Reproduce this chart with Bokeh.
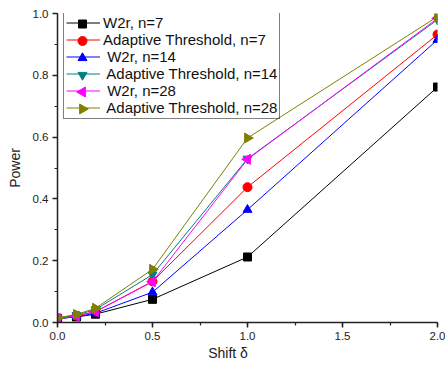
from bokeh.plotting import figure
from bokeh.models import Range1d, Legend, LegendItem, NumeralTickFormatter, SingleIntervalTicker
from bokeh.embed import file_html
from bokeh.resources import INLINE

shift = [0.0, 0.1, 0.2, 0.5, 1.0, 2.0]
w2r_7 = [0.013, 0.018, 0.027, 0.075, 0.212, 0.762]
at_7 = [0.014, 0.022, 0.035, 0.133, 0.438, 0.932]
w2r_14 = [0.012, 0.019, 0.030, 0.098, 0.365, 0.915]
at_14 = [0.015, 0.024, 0.042, 0.155, 0.530, 0.980]
w2r_28 = [0.013, 0.020, 0.035, 0.132, 0.528, 0.984]
at_28 = [0.015, 0.026, 0.046, 0.172, 0.597, 0.990]

labels = ["W2r, n=7", "Adaptive Threshold, n=7", " W2r, n=14",
          " Adaptive Threshold, n=14", " W2r, n=28", " Adaptive Threshold, n=28"]
series = [w2r_7, at_7, w2r_14, at_14, w2r_28, at_28]
colors = ["#000000", "#ff0000", "#0000ff", "#008080", "#ff00ff", "#808000"]
markers = ["square", "circle", "triangle", "inverted_triangle", "triangle", "triangle"]
angles = [0, 0, 0, 0, 90, -90]
sizes = [8, 9, 9, 9, 10, 10]

FONT = "Liberation Sans"

# layout constants (pixels)
W, H = 445, 367
BL, BR, BT, BB = 57, 8, 13, 45
FW, FH = W - BL - BR, H - BT - BB
X0, X1, Y0, Y1 = 0.0, 2.0, 0.0, 1.0
LEG_X = 6
LEG_PAD = 2
ROW_H = 17
GLYPH_W = 34
LEG_H = 2 * LEG_PAD + len(labels) * ROW_H

p = figure(width=W, height=H, output_backend="svg", toolbar_location=None,
           x_range=Range1d(X0, X1), y_range=Range1d(Y0, Y1),
           min_border_left=BL, min_border_right=BR, min_border_top=BT, min_border_bottom=BB)
p.outline_line_color = None
p.xgrid.visible = False
p.ygrid.visible = False

items = []
for i, (ys, lab, c, m, a, s) in enumerate(zip(series, labels, colors, markers, angles, sizes)):
    l = p.line(shift, ys, line_color=c, line_width=1)
    p.scatter(shift, ys, marker=m, angle=a, angle_units="deg", size=s,
              fill_color=c, line_color=c)
    items.append(LegendItem(label=lab, renderers=[l]))
    # legend marker (legend box is transparent so these show through; keeps rotation)
    lx = X0 + (LEG_X + LEG_PAD + GLYPH_W / 2) / FW * (X1 - X0)
    ly = Y1 - (LEG_PAD + ROW_H * (i + 0.5)) / FH * (Y1 - Y0)
    p.scatter([lx], [ly], marker=m, angle=a, angle_units="deg", size=s,
              fill_color=c, line_color=c)

legend = Legend(items=items, location=(LEG_X, FH - LEG_H))
legend.border_line_color = "black"
legend.border_line_width = 1
legend.background_fill_alpha = 0
legend.label_text_font = FONT
legend.label_text_font_size = "15px"
legend.label_text_color = "#111111"
legend.label_height = ROW_H
legend.glyph_height = ROW_H
legend.glyph_width = GLYPH_W
legend.spacing = 0
legend.padding = LEG_PAD
legend.margin = 0
legend.label_standoff = 3
p.add_layout(legend)

for ax in (p.xaxis[0], p.yaxis[0]):
    ax.axis_line_width = 1.5
    ax.axis_line_color = "#222222"
    ax.major_tick_line_color = "#222222"
    ax.minor_tick_line_color = "#222222"
    ax.major_tick_line_width = 1.5
    ax.minor_tick_line_width = 1.2
    ax.major_tick_out = 5
    ax.major_tick_in = 0
    ax.minor_tick_out = 3
    ax.minor_tick_in = 0
    ax.major_label_text_font = FONT
    ax.major_label_text_font_size = "11.5px"
    ax.major_label_text_color = "#222222"
    ax.axis_label_text_font = FONT
    ax.axis_label_text_font_size = "14px"
    ax.axis_label_text_font_style = "normal"
    ax.axis_label_text_color = "#222222"
    ax.formatter = NumeralTickFormatter(format="0.0")

p.xaxis.ticker = SingleIntervalTicker(interval=0.5, num_minor_ticks=2)
p.yaxis.ticker = SingleIntervalTicker(interval=0.2, num_minor_ticks=2)
p.xaxis.axis_label = "Shift  δ" + "\u00a0" * 9
p.yaxis.axis_label = "Power"
p.xaxis.major_label_standoff = 4
p.xaxis.axis_label_standoff = 2
p.yaxis.major_label_standoff = 4
p.yaxis.axis_label_standoff = 7

open("out.html", "w").write(file_html(p, INLINE))
